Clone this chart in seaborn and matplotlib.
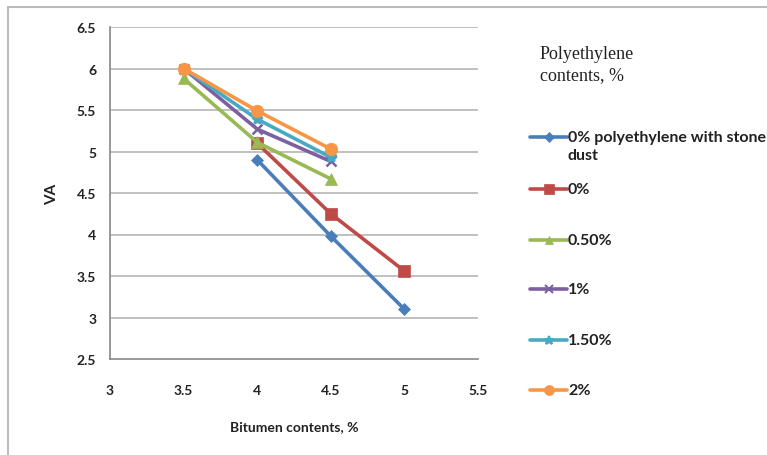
import matplotlib
matplotlib.use("Agg")
import matplotlib.pyplot as plt
import seaborn as sns
import pandas as pd
from matplotlib.lines import Line2D
from matplotlib.patches import Rectangle

# Air voids (VA) versus bitumen content for each polyethylene content
series_names = ["0% polyethylene with stone\ndust", "0%", "0.50%", "1%", "1.50%", "2%"]
bitumen_stone_dust = [4.0, 4.5, 5.0]
va_stone_dust = [4.90, 3.98, 3.10]
bitumen_0 = [4.0, 4.5, 5.0]
va_0 = [5.10, 4.25, 3.56]
bitumen_05 = [3.5, 4.0, 4.5]
va_05 = [5.88, 5.11, 4.67]
bitumen_1 = [3.5, 4.0, 4.5]
va_1 = [6.00, 5.27, 4.88]
bitumen_15 = [3.5, 4.0, 4.5]
va_15 = [6.00, 5.39, 4.93]
bitumen_2 = [3.5, 4.0, 4.5]
va_2 = [6.00, 5.49, 5.03]

x_ticks = [3, 3.5, 4, 4.5, 5, 5.5]
y_ticks = [2.5, 3, 3.5, 4, 4.5, 5, 5.5, 6, 6.5]

colors = ["#4A7EBB", "#BE4B48", "#98B954", "#7D60A0", "#46AAC5", "#F79646"]
markers = ["D", "s", "^", "x", "*", "o"]
msizes = [6, 9, 8, 7, 8, 9]

xs = [bitumen_stone_dust, bitumen_0, bitumen_05, bitumen_1, bitumen_15, bitumen_2]
ys = [va_stone_dust, va_0, va_05, va_1, va_15, va_2]

frames = []
for name, x, y in zip(series_names, xs, ys):
    frames.append(pd.DataFrame({"Bitumen": x, "VA": y, "Series": name}))
df = pd.concat(frames, ignore_index=True)

sns.set_style("white")
plt.rcParams["font.family"] = ["Lato", "DejaVu Sans"]

W, H = 767, 456
fig = plt.figure(figsize=(W / 100, H / 100), dpi=100)
ax = fig.add_axes([110 / W, 1 - 360 / H, (478 - 110) / W, (360 - 28) / H])

for i, name in enumerate(series_names):
    sub = df[df["Series"] == name]
    sns.lineplot(data=sub, x="Bitumen", y="VA", ax=ax, color=colors[i],
                 marker=markers[i], markersize=msizes[i], linewidth=2.6,
                 markeredgecolor=colors[i], markeredgewidth=1.8 if markers[i] in "x*" else 0.5,
                 legend=False)

ax.set_xlim(3, 5.5)
ax.set_ylim(2.5, 6.5)
ax.set_xticks(x_ticks)
ax.set_yticks(y_ticks)
ax.set_xticklabels([f"{t:g}" for t in x_ticks], fontsize=10, fontweight="bold", color="#222222")
ax.set_yticklabels([f"{t:g}" for t in y_ticks], fontsize=10, fontweight="bold", color="#222222")
ax.tick_params(axis="both", direction="out", length=4, color="#888888", width=1)
ax.tick_params(axis="x", pad=14)
ax.tick_params(axis="y", pad=6)
for yv in y_ticks[1:]:
    ax.axhline(yv, color="#BBBBBB", linewidth=1.3, zorder=0)
for s in ["top", "right"]:
    ax.spines[s].set_visible(False)
for s in ["left", "bottom"]:
    ax.spines[s].set_color("#888888")
    ax.spines[s].set_linewidth(1.2)

ax.set_xlabel("Bitumen contents, %", fontsize=10, fontweight="bold", labelpad=17, color="#222222")
ax.set_ylabel("VA", fontsize=11, fontweight="bold", labelpad=13, color="#222222")

# Outer chart frame
fig.patches.append(Rectangle((8 / W, -0.05), 1.1, 1 - 8 / H + 0.05, transform=fig.transFigure,
                             fill=False, edgecolor="#BBBBBB", linewidth=1.5))

fig.text(540 / W, 1 - 46 / H, "Polyethylene\ncontents, %", family="Liberation Serif",
         fontsize=13, va="top", ha="left", color="#222222", linespacing=1.35)

# Legend entries, one row per series
entry_y = [138, 190, 241, 290, 341, 391]
for name, c, m, ms, yp in zip(series_names, colors, markers, msizes, entry_y):
    yf = 1 - yp / H
    fig.add_artist(Line2D([530 / W, 567 / W], [yf, yf], transform=fig.transFigure,
                          color=c, linewidth=2.6))
    fig.add_artist(Line2D([548.5 / W], [yf], transform=fig.transFigure, color=c,
                          marker=m, markersize=ms * 0.8, markeredgecolor=c,
                          markeredgewidth=1.5 if m in "x*" else 0.5, linestyle="none"))
    first, *rest = name.split("\n")
    fig.text(568 / W, yf, first, fontsize=11.5, fontweight="bold", va="center",
             ha="left", color="#222222")
    for k, extra in enumerate(rest, start=1):
        fig.text(568 / W, 1 - (yp + 18 * k) / H, extra, fontsize=11.5, fontweight="bold",
                 va="center", ha="left", color="#222222")

fig.savefig("out.png", dpi=100)
